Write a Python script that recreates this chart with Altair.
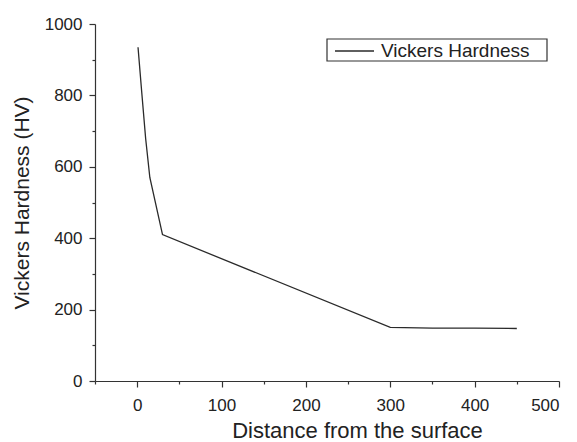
import altair as alt
import pandas as pd

distance = [1, 5, 10, 15, 30, 300, 350, 400, 450]
hardness = [935, 820, 680, 570, 410, 150, 148, 148, 147]
series = ["Vickers Hardness"] * len(distance)
legend_label = ["Vickers Hardness"]

x_ticks = [-50, 0, 50, 100, 150, 200, 250, 300, 350, 400, 450, 500]
y_ticks = [0, 100, 200, 300, 400, 500, 600, 700, 800, 900, 1000]

df = pd.DataFrame({"d": distance, "hv": hardness, "s": series})
leg = pd.DataFrame({"label": legend_label})

FONT = "Liberation Sans"
LINE = "#2a2a2a"

line = alt.Chart(df).mark_line(strokeWidth=1.3, clip=False, color=LINE).encode(
    x=alt.X(
        "d:Q",
        scale=alt.Scale(domain=[-50, 500], nice=False, zero=False),
        axis=alt.Axis(
            title="Distance from the surface",
            values=x_ticks,
            format="d",
            labelExpr="datum.value % 100 === 0 ? datum.label : ''",
            tickSize={"condition": {"test": "datum.value % 100 === 0", "value": 6}, "value": 3},
            grid=False,
            labelPadding=10,
            titlePadding=7,
            titleFontSize=22,
            titleX=262,
        ),
    ),
    y=alt.Y(
        "hv:Q",
        scale=alt.Scale(domain=[0, 1000], nice=False),
        axis=alt.Axis(
            title="Vickers Hardness (HV)",
            values=y_ticks,
            format="d",
            labelExpr="datum.value % 200 === 0 ? datum.label : ''",
            tickSize={"condition": {"test": "datum.value % 200 === 0", "value": 6}, "value": 3},
            grid=False,
            labelPadding=7,
            titlePadding=12,
            titleFontSize=21,
        ),
    ),
    detail="s:N",
)

# legend drawn as a small layered group
leg_box = alt.Chart(leg).mark_rect(fill="white", stroke="#333333", strokeWidth=1.2).encode(
    x=alt.value(232), x2=alt.value(452), y=alt.value(15), y2=alt.value(37)
)
leg_line = alt.Chart(leg).mark_rule(color=LINE, strokeWidth=1.3).encode(
    x=alt.value(240), x2=alt.value(279), y=alt.value(27)
)
leg_text = alt.Chart(leg).mark_text(
    align="left", baseline="middle", font=FONT, fontSize=19, color="#222222"
).encode(x=alt.value(286), y=alt.value(27), text="label:N")

chart = alt.layer(line, leg_box, leg_line, leg_text).properties(
    width=464,
    height=357,
    autosize=alt.AutoSizeParams(type="none"),
    padding={"left": 87, "top": 16, "right": 10, "bottom": 60},
).configure_view(
    stroke=None
).configure_axis(
    domainColor="#333333",
    tickColor="#333333",
    domainWidth=1.2,
    tickWidth=1.2,
    labelFont=FONT,
    labelFontSize=17,
    labelColor="#222222",
    titleFont=FONT,
    titleFontWeight="normal",
    titleColor="#222222",
)

chart.save("out.html", embed_options={"renderer": "svg", "actions": False})
